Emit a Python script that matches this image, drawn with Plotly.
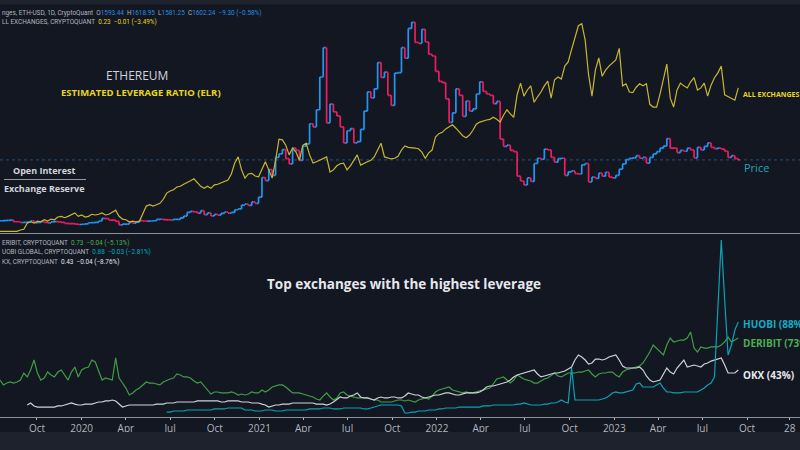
import plotly.graph_objects as go
import pandas as pd

# ---------------- data (weekly samples) ----------------
start_date = "2019-07-17"

eth_close = [
    210, 215, 218, 225, 187, 187, 170, 175, 180, 210,
    168, 175, 192, 175, 160, 183, 190, 185, 175, 152,
    146, 143, 132, 125,
    130, 141, 165, 167, 175, 205, 265, 258, 225, 225,
    195, 115, 135, 135, 170, 155, 180, 215, 205, 200,
    205, 210, 240, 245, 235, 232, 228, 240, 240, 275,
    318, 400, 425, 415, 385, 440, 350, 390, 320, 355,
    340, 380, 410, 385, 400, 462, 480, 570, 590, 560,
    640, 610, 750,
    1200, 1130, 1380, 1250, 1660, 1740, 1840, 1630, 1510, 1870,
    1820, 1590, 1920, 1970, 2430, 2360, 2750, 3500, 4170, 2450,
    2880, 2700, 2610, 2360, 1990, 2270, 2320, 1990, 2020, 2300,
    2720, 3160, 3020, 3230, 3830, 3490, 3610, 3080, 2850, 3590,
    3600, 4170, 3930, 4610, 4750, 4290, 4270, 4590, 4300, 4020,
    3980, 3630,
    3400, 3370, 3000, 2460, 2680, 3230, 3080, 2600, 2950, 2720,
    2770, 3110, 3390, 3170, 3110, 3080, 2890, 2940, 2080, 1910,
    1940, 1820, 1790, 1230, 1120, 1030, 1190, 1110, 1520, 1640,
    1620, 1850, 1830, 1660, 1550, 1630, 1640, 1250, 1330, 1350,
    1290, 1280, 1490, 1520, 1100, 1210, 1180, 1300, 1230, 1320,
    1210, 1190,
    1250, 1390, 1510, 1610, 1640, 1650, 1700, 1640, 1660, 1530,
    1660, 1740, 1790, 1870, 1920, 2090, 1870, 1870, 1770, 1820,
    1800, 1870, 1830, 1650, 1890, 1830, 1910, 1990, 1890, 1860,
    1870, 1850, 1800, 1660, 1700, 1630, 1602.24,
]

elr_all = [
    0.020, 0.020, 0.020, 0.020, 0.020, 0.020, 0.022, 0.023, 0.032, 0.034,
    0.032, 0.035, 0.034, 0.037, 0.035, 0.038, 0.037, 0.041, 0.042, 0.040,
    0.042, 0.045, 0.047, 0.042, 0.044, 0.041, 0.042, 0.045, 0.044, 0.045,
    0.047, 0.044, 0.045, 0.048, 0.051, 0.042, 0.038, 0.037, 0.034, 0.035,
    0.034, 0.035, 0.045, 0.057, 0.059, 0.057, 0.059, 0.061, 0.067, 0.076,
    0.079, 0.081, 0.085, 0.086, 0.089, 0.091, 0.094, 0.097, 0.091, 0.086,
    0.083, 0.086, 0.083, 0.088, 0.089, 0.091, 0.094, 0.095, 0.104, 0.120,
    0.129, 0.110, 0.098, 0.104, 0.105, 0.101, 0.100, 0.110, 0.122, 0.110,
    0.098, 0.124, 0.155, 0.154, 0.146, 0.132, 0.142, 0.136, 0.124, 0.146,
    0.149, 0.132, 0.120, 0.122, 0.124, 0.127, 0.129, 0.107, 0.110, 0.116,
    0.119, 0.120, 0.110, 0.116, 0.124, 0.132, 0.117, 0.120, 0.122, 0.124,
    0.129, 0.139, 0.149, 0.129, 0.127, 0.126, 0.127, 0.130, 0.139, 0.145,
    0.143, 0.143, 0.142, 0.141, 0.136, 0.127, 0.135, 0.139, 0.158, 0.163,
    0.165, 0.170, 0.173, 0.176, 0.171, 0.165, 0.160, 0.157, 0.161, 0.168,
    0.177, 0.180, 0.182, 0.183, 0.184, 0.187, 0.184, 0.180, 0.190, 0.198,
    0.192, 0.187, 0.220, 0.237, 0.218, 0.227, 0.233, 0.209, 0.217, 0.224,
    0.233, 0.240, 0.215, 0.242, 0.246, 0.243, 0.262, 0.268, 0.286, 0.305,
    0.321, 0.324, 0.300, 0.249, 0.218, 0.256, 0.274, 0.247, 0.256, 0.262,
    0.266, 0.271, 0.288, 0.233, 0.236, 0.224, 0.223, 0.231, 0.236, 0.233,
    0.236, 0.206, 0.202, 0.202, 0.221, 0.242, 0.265, 0.215, 0.202, 0.227,
    0.237, 0.233, 0.230, 0.239, 0.245, 0.227, 0.230, 0.237, 0.218, 0.234,
    0.245, 0.252, 0.262, 0.220, 0.217, 0.214, 0.212, 0.230,
]

elr_deribit = [
    0.337, 0.291, 0.309, 0.319, 0.309, 0.319, 0.337, 0.403, 0.366, 0.431,
    0.525, 0.403, 0.337, 0.356, 0.412, 0.384, 0.366, 0.412, 0.431, 0.384,
    0.337, 0.412, 0.459, 0.366, 0.431, 0.450, 0.459, 0.525, 0.506, 0.422,
    0.337, 0.356, 0.347, 0.337, 0.544, 0.356, 0.309, 0.262, 0.197, 0.216,
    0.244, 0.262, 0.291, 0.319, 0.309, 0.309, 0.300, 0.291, 0.319, 0.337,
    0.347, 0.356, 0.394, 0.384, 0.366, 0.366, 0.356, 0.328, 0.309, 0.319,
    0.281, 0.244, 0.206, 0.225, 0.225, 0.216, 0.216, 0.216, 0.225, 0.216,
    0.197, 0.206, 0.197, 0.206, 0.225, 0.216, 0.216, 0.244, 0.225, 0.244,
    0.272, 0.281, 0.291, 0.291, 0.272, 0.244, 0.216, 0.216, 0.216, 0.206,
    0.197, 0.187, 0.178, 0.159, 0.150, 0.187, 0.216, 0.178, 0.150, 0.169,
    0.216, 0.225, 0.197, 0.187, 0.178, 0.169, 0.169, 0.169, 0.169, 0.159,
    0.150, 0.150, 0.131, 0.131, 0.131, 0.131, 0.141, 0.150, 0.150, 0.141,
    0.150, 0.141, 0.131, 0.150, 0.159, 0.169, 0.159, 0.187, 0.225, 0.244,
    0.253, 0.262, 0.272, 0.244, 0.234, 0.225, 0.216, 0.225, 0.216, 0.216,
    0.225, 0.234, 0.244, 0.253, 0.262, 0.300, 0.347, 0.356, 0.366, 0.337,
    0.309, 0.337, 0.384, 0.366, 0.347, 0.337, 0.328, 0.309, 0.309, 0.328,
    0.347, 0.356, 0.384, 0.403, 0.375, 0.366, 0.384, 0.403, 0.403, 0.403,
    0.412, 0.412, 0.422, 0.431, 0.394, 0.366, 0.394, 0.403, 0.403, 0.412,
    0.412, 0.384, 0.366, 0.412, 0.431, 0.441, 0.450, 0.459, 0.469, 0.497,
    0.544, 0.600, 0.665, 0.637, 0.600, 0.572, 0.665, 0.731, 0.694, 0.703,
    0.712, 0.712, 0.731, 0.787, 0.637, 0.600, 0.647, 0.637, 0.637, 0.647,
    0.647, 0.647, 0.665, 0.694, 0.740, 0.694, 0.712, 0.731,
]

elr_okx = [
    None, None, None, None, None, None, None, None, 0.103, 0.122,
    0.094, 0.084, 0.084, 0.084, 0.084, 0.084, 0.084, 0.094, 0.094, 0.103,
    0.112, 0.122, 0.112, 0.103, 0.103, 0.112, 0.112, 0.112, 0.122, 0.131,
    0.131, 0.141, 0.141, 0.150, 0.141, 0.112, 0.084, 0.094, 0.103, 0.103,
    0.103, 0.103, 0.103, 0.103, 0.103, 0.103, 0.112, 0.112, 0.112, 0.122,
    0.122, 0.122, 0.131, 0.131, 0.131, 0.131, 0.131, 0.131, 0.141, 0.141,
    0.141, 0.141, 0.141, 0.141, 0.141, 0.131, 0.131, 0.141, 0.141, 0.141,
    0.141, 0.131, 0.131, 0.131, 0.122, 0.122, 0.122, 0.112, 0.103, 0.084,
    0.094, 0.103, 0.103, 0.112, 0.112, 0.112, 0.122, 0.122, 0.122, 0.122,
    0.122, 0.122, 0.122, 0.112, 0.112, 0.112, 0.103, 0.112, 0.131, 0.159,
    0.178, 0.169, 0.169, 0.187, 0.197, 0.216, 0.178, 0.169, 0.169, 0.159,
    0.150, 0.169, 0.178, 0.169, 0.169, 0.178, 0.178, 0.169, 0.169, 0.187,
    0.216, 0.206, 0.197, 0.197, 0.178, 0.169, 0.178, 0.187, 0.197, 0.197,
    0.206, 0.216, 0.216, 0.206, 0.197, 0.197, 0.206, 0.216, 0.216, 0.216,
    0.216, 0.225, 0.244, 0.272, 0.281, 0.281, 0.291, 0.300, 0.309, 0.319,
    0.337, 0.366, 0.384, 0.394, 0.403, 0.412, 0.422, 0.431, 0.394, 0.366,
    0.375, 0.384, 0.394, 0.403, 0.403, 0.412, 0.422, 0.441, 0.459, 0.525,
    0.572, 0.553, 0.525, 0.487, 0.497, 0.534, 0.534, 0.525, 0.534, 0.553,
    0.562, 0.572, 0.525, 0.469, 0.450, 0.450, 0.450, 0.450, 0.459, 0.431,
    0.375, 0.337, 0.319, 0.328, 0.337, 0.394, 0.450, 0.412, 0.394, 0.450,
    0.487, 0.525, 0.459, 0.469, 0.478, 0.469, 0.459, 0.487, 0.497, 0.515,
    0.525, 0.534, 0.544, 0.478, 0.403, 0.403, 0.403, 0.431,
]

elr_huobi = [
    None, None, None, None, None, None, None, None, None, None,
    None, None, None, None, None, None, None, None, None, None,
    None, None, None, None, None, None, None, None, None, None,
    None, None, None, None, None, None, None, None, None, None,
    None, None, None, None, None, None, None, None, None, 0.037,
    0.037, 0.047, 0.047, 0.047, 0.047, 0.056, 0.056, 0.056, 0.056, 0.056,
    0.056, 0.056, 0.056, 0.066, 0.066, 0.066, 0.066, 0.075, 0.075, 0.075,
    0.075, 0.075, 0.056, 0.056, 0.056, 0.047, 0.047, 0.047, 0.056, 0.056,
    0.056, 0.047, 0.047, 0.047, 0.056, 0.056, 0.056, 0.056, 0.056, 0.056,
    0.056, 0.066, 0.066, 0.066, 0.066, 0.075, 0.075, 0.075, 0.066, 0.066,
    0.066, 0.075, 0.075, 0.075, 0.075, 0.075, 0.075, 0.066, 0.066, 0.075,
    0.084, 0.094, 0.103, 0.103, 0.103, 0.103, 0.103, 0.103, 0.094, 0.028,
    0.028, 0.037, 0.037, 0.047, 0.047, 0.047, 0.056, 0.056, 0.056, 0.066,
    0.066, 0.075, 0.075, 0.075, 0.075, 0.084, 0.084, 0.084, 0.084, 0.084,
    0.084, 0.084, 0.094, 0.094, 0.094, 0.103, 0.103, 0.103, 0.103, 0.103,
    0.103, 0.103, 0.112, 0.112, 0.122, 0.112, 0.103, 0.103, 0.103, 0.103,
    0.112, 0.112, 0.122, 0.122, 0.131, 0.150, 0.131, 0.122, 0.450, 0.150,
    0.150, 0.150, 0.150, 0.150, 0.150, 0.150, 0.150, 0.159, 0.169, 0.187,
    0.216, 0.225, 0.216, 0.216, 0.225, 0.234, 0.244, 0.300, 0.309, 0.272,
    0.272, 0.272, 0.272, 0.291, 0.309, 0.262, 0.225, 0.225, 0.216, 0.216,
    0.216, 0.225, 0.225, 0.225, 0.225, 0.225, 0.244, 0.262, 0.291, 0.309,
    0.366, 1.087, 1.650, 1.087, 0.572, 0.665, 0.806, 0.881,
]

last_price = 1602.24

tick_dates = ["2019-10-01", "2020-01-01", "2020-04-01", "2020-07-01", "2020-10-01",
              "2021-01-01", "2021-04-01", "2021-07-01", "2021-10-01", "2022-01-01",
              "2022-04-01", "2022-07-01", "2022-10-01", "2023-01-01", "2023-04-01",
              "2023-07-01", "2023-10-01", "2023-12-28"]
tick_labels = ["Oct", "2020", "Apr", "Jul", "Oct", "2021", "Apr", "Jul", "Oct", "2022",
               "Apr", "Jul", "Oct", "2023", "Apr", "Jul", "Oct", "28"]

# ---------------- build ----------------
dates = pd.date_range(start_date, periods=len(eth_close), freq="7D")
eth_open = [eth_close[0]] + eth_close[:-1]
eth_high = [max(o, c) for o, c in zip(eth_open, eth_close)]
eth_low = [min(o, c) for o, c in zip(eth_open, eth_close)]

W, H = 800, 450
BG = "#131722"
BLUE, PINK = "#2196f3", "#e91e63"
YEL, YEL_TXT = "#c8b72e", "#e8d61e"
GREEN, TEAL, WHITE = "#3f9e44", "#0aa3b8", "#cfd2d8"


def px(x):
    return x / W


def py(y):
    return 1 - y / H


fig = go.Figure()
fig.add_trace(go.Ohlc(
    x=dates, open=eth_open, high=eth_high, low=eth_low, close=eth_close,
    xaxis="x", yaxis="y", tickwidth=0.5,
    increasing=dict(line=dict(color=BLUE, width=1.7)),
    decreasing=dict(line=dict(color=PINK, width=1.7)),
    showlegend=False, hoverinfo="skip"))
fig.add_trace(go.Scatter(x=dates, y=elr_all, mode="lines", yaxis="y2",
                         line=dict(color=YEL, width=1.2), showlegend=False))
fig.add_trace(go.Scatter(x=dates, y=elr_deribit, mode="lines", yaxis="y3",
                         line=dict(color=GREEN, width=1.2), showlegend=False))
fig.add_trace(go.Scatter(x=dates, y=elr_okx, mode="lines", yaxis="y3",
                         line=dict(color=WHITE, width=1.2), showlegend=False))
fig.add_trace(go.Scatter(x=dates, y=elr_huobi, mode="lines", yaxis="y3",
                         line=dict(color=TEAL, width=1.2), showlegend=False))

FONT = "Open Sans"
HFONT = "Roboto"
ann = []


def A(x, y, text, size, color, anchor="left", family=FONT):
    ann.append(dict(x=px(x), y=py(y), xref="paper", yref="paper", text=text,
                    showarrow=False, xanchor=anchor, yanchor="middle",
                    font=dict(size=size, color=color, family=family)))


g = "#b2b5be"
bl = "#2a8de0"
HS = 6.4
A(0, 13, "nges, ETH-USD, 1D, CryptoQuant&nbsp; O<span style='color:%s'>1593.44</span>&nbsp; "
  "H<span style='color:%s'>1618.95</span>&nbsp; L<span style='color:%s'>1581.25</span>&nbsp; "
  "C<span style='color:%s'>1602.24&nbsp; −9.30 (−0.58%%)</span>" % (bl, bl, bl, bl), HS, g, family=HFONT)
A(0, 22, "LL EXCHANGES, CRYPTOQUANT&nbsp; <span style='color:%s'>0.23&nbsp; −0.01 (−3.49%%)</span>" % YEL_TXT,
  HS, g, family=HFONT)
A(0, 243, "ERIBIT, CRYPTOQUANT&nbsp; <span style='color:#4caf50'>0.73&nbsp; −0.04 (−5.13%)</span>",
  HS, g, family=HFONT)
A(0, 252, "UOBI GLOBAL, CRYPTOQUANT&nbsp; <span style='color:#00acc1'>0.88&nbsp; −0.03 (−2.81%)</span>",
  HS, g, family=HFONT)
A(0, 262, "KX, CRYPTOQUANT&nbsp; <span style='color:#e0e3eb'>0.43&nbsp; −0.04 (−8.76%)</span>",
  HS, g, family=HFONT)

A(137, 76, "ETHEREUM", 12, "#d1d4dc", "center")
A(141, 92, "<b>ESTIMATED LEVERAGE RATIO (ELR)</b>", 9.5, YEL_TXT, "center")
A(44, 170, "<b>Open Interest</b>", 9, "#d1d4dc", "center")
A(44, 188, "<b>Exchange Reserve</b>", 9, "#d1d4dc", "center")
A(741, 94, "<b>ALL EXCHANGES (23%)</b>", 7, YEL_TXT)
A(742, 167, "Price", 11, "#22a6b8")
A(404, 284, "<b>Top exchanges with the highest leverage</b>", 13.5, "#e6e8ee", "center")
A(741, 324, "<b>HUOBI (88%)</b>", 10, "#18abc4")
A(741, 343, "<b>DERIBIT (73%)</b>", 10, "#4caf50")
A(741, 375, "<b>OKX (43%)</b>", 10, "#e6e8ee")

shapes = [
    dict(type="rect", xref="paper", yref="paper", x0=0, x1=1, y0=py(4.5), y1=1,
         fillcolor="#1e222d", line=dict(width=0)),
    dict(type="rect", xref="paper", yref="paper", x0=0, x1=1, y0=0, y1=py(432),
         fillcolor="#1e222d", line=dict(width=0)),
    dict(type="line", xref="paper", yref="paper", x0=0, x1=1, y0=py(233.5), y1=py(233.5),
         line=dict(color="#8e919b", width=1)),
    dict(type="line", xref="paper", yref="y", x0=0, x1=1, y0=last_price, y1=last_price,
         line=dict(color="#25547e", width=1, dash="dot"), layer="below"),
    dict(type="line", xref="paper", yref="paper", x0=px(4), x1=px(86), y0=py(179.5), y1=py(179.5),
         line=dict(color="#9598a1", width=1)),
]

fig.update_layout(
    width=W, height=H, margin=dict(l=0, r=0, t=0, b=0),
    paper_bgcolor=BG, plot_bgcolor=BG, showlegend=False,
    annotations=ann, shapes=shapes,
    xaxis=dict(domain=[0, 1], anchor="y3", type="date",
               range=["2019-07-17", "2024-01-18"],
               tickvals=tick_dates, ticktext=tick_labels,
               tickfont=dict(size=10, color="#b2b5be", family=FONT),
               showgrid=False, zeroline=False, showline=True,
               linecolor="#8e919b", linewidth=1,
               ticks="outside", ticklen=2, tickcolor="#b2b5be",
               rangeslider=dict(visible=False), fixedrange=True),
    yaxis=dict(domain=[py(233), py(5)], range=[-70, 5147], visible=False,
               showgrid=False, zeroline=False, fixedrange=True),
    yaxis2=dict(overlaying="y", range=[0.0176, 0.3514], visible=False,
                showgrid=False, zeroline=False, fixedrange=True),
    yaxis3=dict(domain=[py(417), py(234)], range=[-0.0094, 1.706], visible=False,
                showgrid=False, zeroline=False, fixedrange=True),
)

fig.write_html("out.html", config={"displayModeBar": False},
               post_script="document.body.style.margin='0';document.body.style.background='%s';" % BG)
